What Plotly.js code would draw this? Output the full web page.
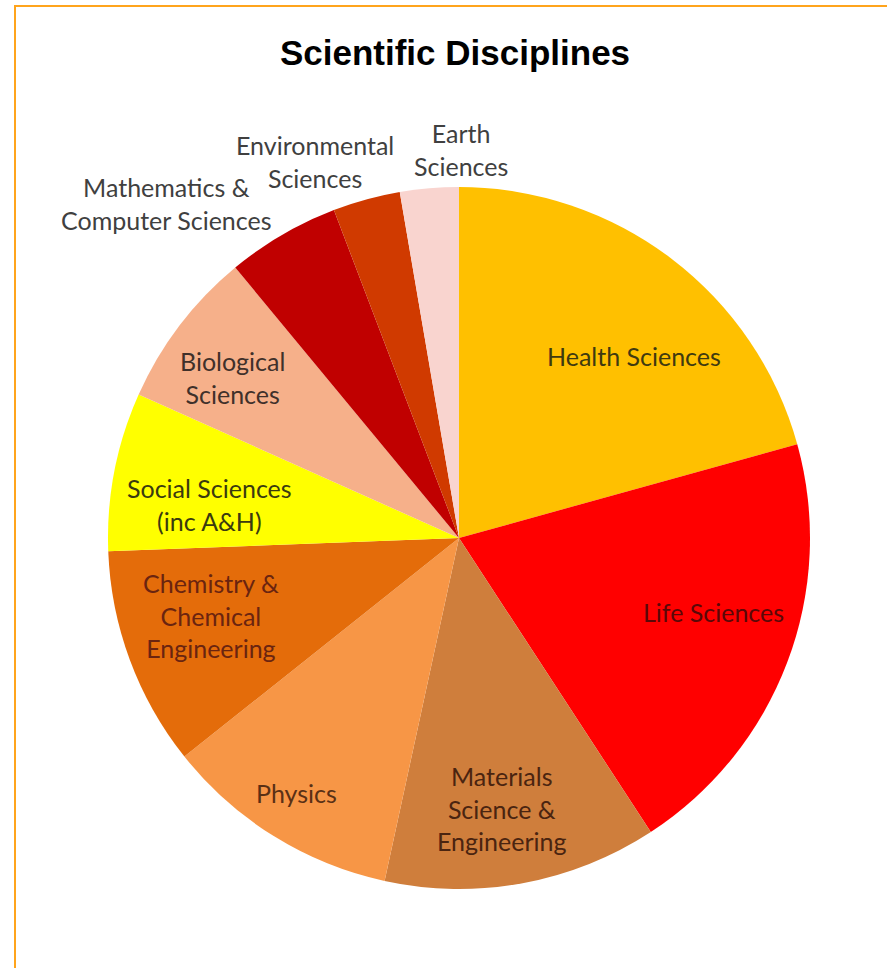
<!DOCTYPE html>
<html>
<head>
<meta charset="utf-8">
<script src="https://cdn.plot.ly/plotly-3.0.1.min.js"></script>
<style>
  html, body { margin: 0; padding: 0; background: #fff; }
  #frame { position: absolute; left: 14px; top: 5px; width: 873px; height: 963px;
           border-top: 2px solid #FFA41C; border-left: 2px solid #FFA41C; }
  #chart { position: absolute; left: 0; top: 0; width: 887px; height: 968px; }
</style>
</head>
<body>
<div id="frame"></div>
<div id="chart"></div>
<script>
var disciplines = [
  'Health Sciences',
  'Life Sciences',
  'Materials<br>Science &<br>Engineering',
  'Physics',
  'Chemistry &<br>Chemical<br>Engineering',
  'Social Sciences<br>(inc A&H)',
  'Biological<br>Sciences',
  'Mathematics &<br>Computer Sciences',
  'Environmental<br>Sciences',
  'Earth<br>Sciences'
];
var shares = [20.7, 20.1, 12.6, 10.9, 10.1, 7.3, 7.3, 5.2, 3.1, 2.7];
var sliceColors = ['#FFC000', '#FF0000', '#CF7E3C', '#F79646', '#E46C0A',
                   '#FFFF00', '#F6B08A', '#C00000', '#D03A00', '#F9D4CF'];
var labelColors = ['#3f3a10', '#5a0808', '#4a2410', '#5a3015', '#6a2410',
                   '#3a3a10', '#40302a', '#404040', '#404040', '#404040'];
// where each label sits, in paper fractions of the pie's square domain
var labelX = [0.749, 0.862, 0.561, 0.268, 0.147, 0.144, 0.177, 0.084, 0.295, 0.503];
var labelY = [0.759, 0.395, 0.115, 0.137, 0.390, 0.548, 0.729, 0.977, 1.037, 1.053];

var data = [{
  type: 'pie',
  labels: disciplines,
  values: shares,
  sort: false,
  direction: 'clockwise',
  rotation: 0,
  textinfo: 'none',
  marker: { colors: sliceColors, line: { width: 0 } },
  hoverinfo: 'label+percent',
  showlegend: false
}];

var annotations = disciplines.map(function (name, i) {
  return {
    text: name,
    xref: 'paper', yref: 'paper',
    x: labelX[i], y: labelY[i],
    xanchor: 'center', yanchor: 'middle',
    align: 'center',
    showarrow: false,
    font: { family: 'Lato, "Open Sans", sans-serif', size: 25, color: labelColors[i] }
  };
});

var layout = {
  width: 887,
  height: 968,
  margin: { l: 108, r: 77, t: 187, b: 79 },
  paper_bgcolor: 'rgba(0,0,0,0)',
  annotations: annotations,
  title: {
    text: '<b>Scientific Disciplines</b>',
    font: { family: '"Liberation Sans Narrow", "Arial Narrow", sans-serif', size: 35, color: '#000' },
    x: 0.513,
    xanchor: 'center',
    y: 0.946,
    yanchor: 'middle'
  }
};

Plotly.newPlot('chart', data, layout, { displayModeBar: false });
</script>
</body>
</html>
